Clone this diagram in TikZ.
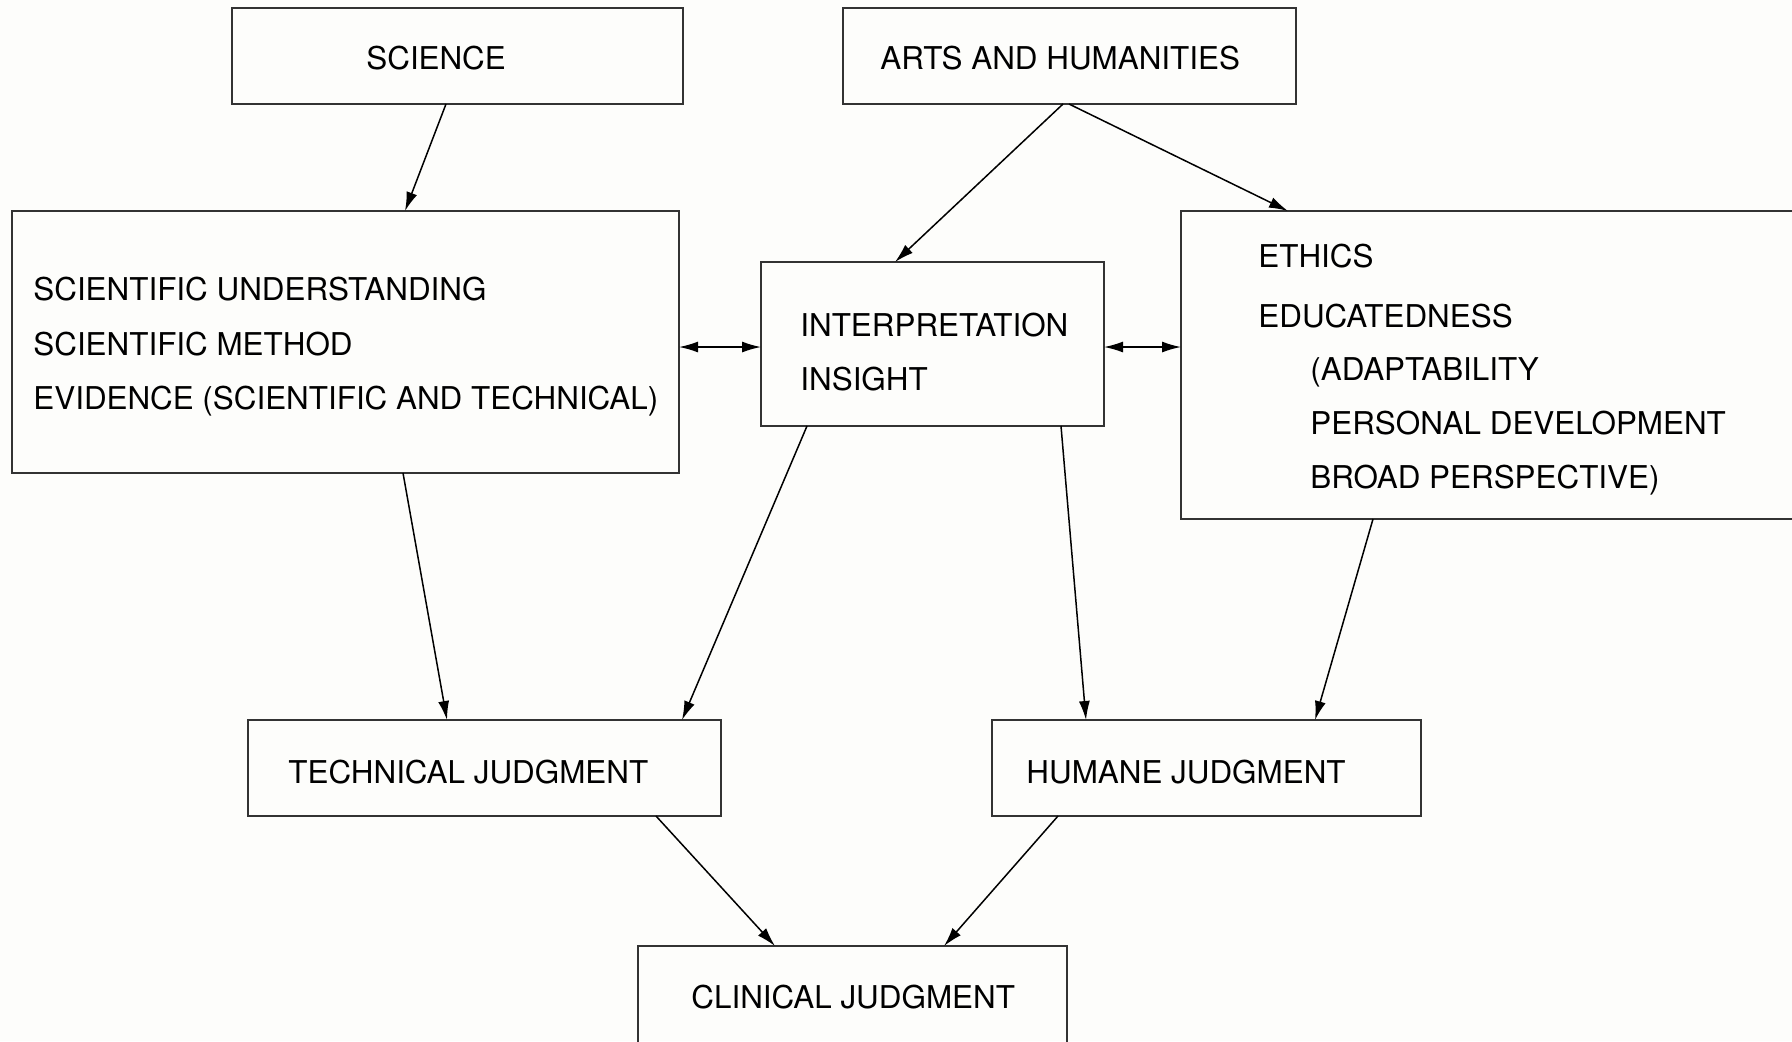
\documentclass[tikz,border=0pt]{standalone}
\usepackage{fontspec}
\setmainfont{TeX Gyre Heros}
\usetikzlibrary{arrows.meta,calc}
\definecolor{paper}{RGB}{253,253,251}
\tikzset{box/.style={
  rectangle,
  draw=black!80,line width=1pt,
  inner sep=0pt,outer sep=0pt}}
\tikzset{entry/.style={anchor=base west,inner sep=0pt,
  font=\fontsize{15.7}{18}\selectfont}}
\tikzset{>={Latex[length=9.5pt,width=5.5pt]}}
\tikzset{link/.style={->,line width=0.75pt}}

\begin{document}
\begin{tikzpicture}[x={(0.5pt,0pt)},y={(0pt,-0.5pt)}]
  \useasboundingbox (0,0) rectangle (1792,1041);
  \fill[paper] (0,0) rectangle (1792,1041);
  \clip (0,0) rectangle (1792,1041);
  % boxes: name/centre/width/height
  \foreach \n/\x/\y/\w/\h in {
      sci/457.5/56/451/96,
      arts/1069.5/56/453/96,
      und/345.5/342/667/262,
      interp/932.5/344/343/164,
      ethics/1498/365/634/308,
      tech/484.5/768/473/96,
      humane/1206.5/768/429/96,
      clin/852.5/1008/429/124}
    \node[box,minimum width=\w*0.5pt,minimum height=\h*0.5pt] (\n) at (\x,\y) {};
  % texts
  \foreach \n/\p/\l in {
      scit/{(366,69)}/{SCIENCE},
      artst/{(880,69)}/{ARTS AND HUMANITIES},
      und1/{(33,300)}/{SCIENTIFIC UNDERSTANDING},
      und2/{(33,355)}/{SCIENTIFIC METHOD},
      und3/{(33,409)}/{EVIDENCE (SCIENTIFIC AND TECHNICAL)},
      int1/{(800,336)}/{INTERPRETATION},
      int2/{(800,390)}/{INSIGHT},
      eth1/{(1258,267)}/{ETHICS},
      eth2/{(1258,327)}/{EDUCATEDNESS},
      eth3/{(1310,380)}/{(ADAPTABILITY},
      eth4/{(1310,434)}/{PERSONAL DEVELOPMENT},
      eth5/{(1310,488)}/{BROAD PERSPECTIVE)},
      techt/{(288,783)}/{TECHNICAL JUDGMENT},
      humt/{(1026,783)}/{HUMANE JUDGMENT},
      clint/{(691,1008)}/{CLINICAL JUDGMENT} }
    \node[entry] (\n) at \p {\l};
  % connectors: from/offset/to/offset along the edges
  \foreach \m/\a/\n/\b in {
      sci/214/und/393,
      arts/220/interp/134,
      arts/226/ethics/107,
      und/391/tech/199,
      interp/46/tech/434,
      interp/300/humane/94,
      ethics/192/humane/323,
      tech/408/clin/137,
      humane/66/clin/306}
    \draw[link] ($(\m.south west)+(\a,0)$) -- ($(\n.north west)+(\b,0)$);
  \coordinate (mid) at ($(interp.west)+(0,3)$);
  \draw[link,<->] (mid -| und.east) -- (mid);
  \draw[link,<->] (mid -| interp.east) -- (mid -| ethics.west);
\end{tikzpicture}
\end{document}
